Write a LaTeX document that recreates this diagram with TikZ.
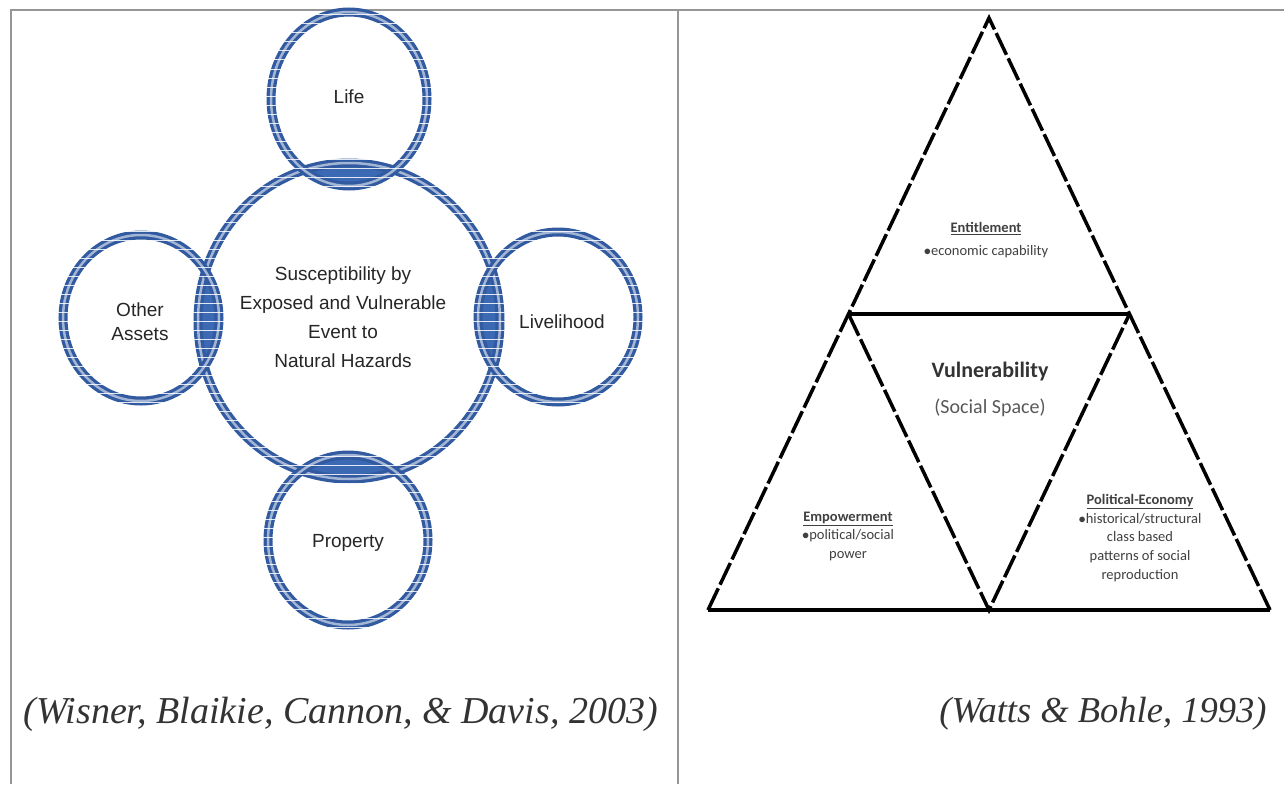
\documentclass[tikz,border=0pt]{standalone}
\usepackage{fontspec}
\setmainfont{Liberation Serif}
\newfontfamily\calfontx{Carlito}
\newfontfamily\arialfx{Liberation Sans}
\begin{document}
\begin{tikzpicture}[x=1pt,y=-1pt]
\definecolor{ringblue}{RGB}{50,90,160}
\definecolor{lensblue}{RGB}{60,105,180}
\definecolor{framegray}{RGB}{150,150,150}
\tikzset{
 frameline/.style={draw=framegray, line width=2},
 ring/.style={draw=ringblue, line width=9},
 ringinner/.style={draw=ringblue!45, line width=2.5},
 stripe/.style={draw=white, line width=1.0, opacity=0.85},
 circtext/.style={font=\arialfx\fontsize{19}{29}\selectfont, text=black!85, align=center},
 tri/.style={line width=3.5, draw=black, dash pattern=on 24pt off 4pt},
 trisolid/.style={line width=3.5, draw=black},
 smalltext/.style={font=\calfontx\fontsize{14.5}{18.5}\selectfont, text=black!75, align=center},
 bigtri/.style={font=\calfontx\bfseries\fontsize{22}{24}\selectfont, text=black!80},
 subtri/.style={font=\calfontx\fontsize{20}{24}\selectfont, text=black!65},
 cite/.style={font=\itshape\fontsize{38}{40}\selectfont, text=black!80},
}
\useasboundingbox (0,0) rectangle (1284,784);
\fill[white] (0,0) rectangle (1284,784);
% frame
\coordinate (ftl) at (11,10.5);
\coordinate (ftr) at (1284,10.5);
\coordinate (fbl) at (11,784);
\coordinate (dtop) at (678,10.5);
\coordinate (dbot) at (678,784);
\draw[frameline] (fbl) -- (ftl) -- (ftr);
\draw[frameline] (dtop) -- (dbot);
% ---- left panel: circles ----
\def\CC{(349,321) ellipse [x radius=151pt, y radius=158pt]}
\def\CT{(349,99) ellipse [x radius=78pt, y radius=87pt]}
\def\CL{(141,318) ellipse [x radius=78pt, y radius=83pt]}
\def\CR{(558,317) ellipse [x radius=80pt, y radius=85pt]}
\def\CB{(348,540) ellipse [x radius=80pt, y radius=85pt]}
% lenses
\begin{scope}\clip \CC; \fill[lensblue] \CT; \end{scope}
\begin{scope}\clip \CC; \fill[lensblue] \CL; \end{scope}
\begin{scope}\clip \CC; \fill[lensblue] \CR; \end{scope}
\begin{scope}\clip \CC; \fill[lensblue] \CB; \end{scope}
% rings
\foreach \e in {\CC,\CT,\CL,\CR,\CB}{
  \draw[ring] \e;
  \draw[ringinner] \e;
}
% scan stripes
\begin{scope}
\clip (55,12) rectangle (650,632);
\foreach \y in {15,24,...,630}{
  \draw[stripe] (55,\y) -- (650,\y);
}
\end{scope}
% circle texts
\node[circtext] (life) at (349,97) {Life};
\node[circtext, font=\arialfx\fontsize{19}{24}\selectfont] (other) at (140,322) {Other\\Assets};
\node[circtext] (liveli) at (562,322) {Livelihood};
\node[circtext] (prop) at (348,543) {Property};
\node[circtext] (center) at (343,317) {Susceptibility by\\Exposed and Vulnerable\\Event to\\Natural Hazards};
% ---- right panel: triangle ----
\coordinate (apex) at (989,18);
\coordinate (bl) at (708,610);
\coordinate (br) at (1270,610);
\coordinate (ml) at (848.5,314);
\coordinate (mr) at (1129.5,314);
\coordinate (mb) at (989,610);
\draw[tri] (bl) -- (apex) -- (br);
\draw[trisolid] (bl) -- (br);
\draw[trisolid] (ml) -- (mr);
\draw[tri] (ml) -- (mb) -- (mr);
\node[smalltext, font=\calfontx\fontsize{14.5}{23}\selectfont] (ent) at (986,240) {\textbf{\underline{Entitlement}}\\$\bullet$economic capability};
\node[bigtri] (vul) at (990,372) {Vulnerability};
\node[subtri] (soc) at (990,408) {(Social Space)};
\node[smalltext] (emp) at (848,536) {\textbf{\underline{Empowerment}}\\$\bullet$political/social\\power};
\node[smalltext, font=\calfontx\fontsize{14.5}{18.7}\selectfont] (pol) at (1140,538) {\textbf{\underline{Political-Economy}}\\$\bullet$historical/structural\\class based\\patterns of social\\reproduction};
% citations
\node[cite, anchor=west] (citeL) at (20,714) {(Wisner, Blaikie, Cannon, \& Davis, 2003)};
\node[cite, anchor=east, font=\itshape\fontsize{36.5}{40}\selectfont] (citeR) at (1270,714) {(Watts \& Bohle, 1993)};
\end{tikzpicture}
\end{document}
